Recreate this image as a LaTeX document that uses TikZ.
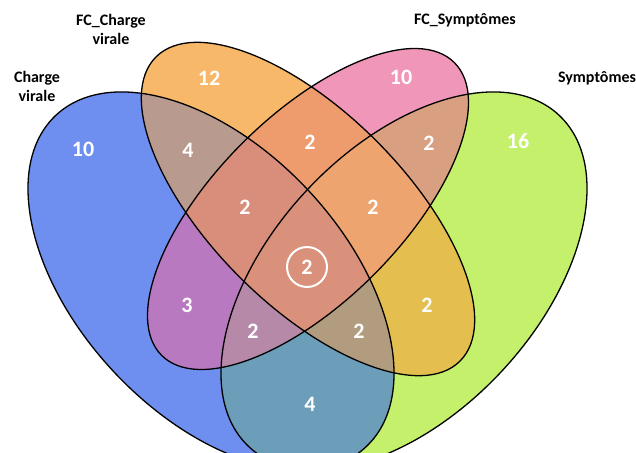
\documentclass[tikz,border=0pt]{standalone}
\usepackage{fontspec}
\setmainfont{Carlito}
\definecolor{cB}{RGB}{110,143,240}
\definecolor{cO}{RGB}{247,184,106}
\definecolor{cP}{RGB}{240,150,185}
\definecolor{cG}{RGB}{196,240,108}
\definecolor{cBO}{RGB}{184,154,142}
\definecolor{cOP}{RGB}{238,156,110}
\definecolor{cPG}{RGB}{216,160,128}
\definecolor{cBP}{RGB}{184,121,192}
\definecolor{cOG}{RGB}{228,191,80}
\definecolor{cBG}{RGB}{108,157,185}
\definecolor{cBOP}{RGB}{216,142,122}
\definecolor{cOPG}{RGB}{237,164,110}
\definecolor{cBPG}{RGB}{183,137,168}
\definecolor{cBOG}{RGB}{178,156,128}
\definecolor{cALL}{RGB}{217,145,123}
\def\eB{(211,-281) circle [x radius=227, y radius=133, rotate=-46.9]}
\def\eG{(404,-281) circle [x radius=227, y radius=133, rotate=46.9]}
\def\eO{(308,-209) circle [x radius=215, y radius=96.5, rotate=-45]}
\def\eP{(308,-209) circle [x radius=207, y radius=93, rotate=45]}
\begin{document}
\begin{tikzpicture}[x=1pt,y=1pt,
  outline/.style={draw=black, line width=1.3pt},
  num/.style={text=white, font=\bfseries\fontsize{22}{26}\selectfont, inner sep=0pt},
  lab/.style={text=black, font=\bfseries\fontsize{16}{19}\selectfont, align=center, inner sep=0pt}]
\useasboundingbox (0,0) rectangle (636,-452);
\fill[white] (0,0) rectangle (636,-452);
\begin{scope}
\clip (0,0) rectangle (636,-452);
% single sets
\fill[cB] \eB; \fill[cG] \eG; \fill[cO] \eO; \fill[cP] \eP;
% pairs
\begin{scope}\clip \eB; \fill[cBO] \eO; \end{scope}
\begin{scope}\clip \eB; \fill[cBP] \eP; \end{scope}
\begin{scope}\clip \eB; \fill[cBG] \eG; \end{scope}
\begin{scope}\clip \eO; \fill[cOP] \eP; \end{scope}
\begin{scope}\clip \eO; \fill[cOG] \eG; \end{scope}
\begin{scope}\clip \eP; \fill[cPG] \eG; \end{scope}
% triples
\begin{scope}\clip \eB; \clip \eO; \fill[cBOP] \eP; \end{scope}
\begin{scope}\clip \eB; \clip \eO; \fill[cBOG] \eG; \end{scope}
\begin{scope}\clip \eB; \clip \eP; \fill[cBPG] \eG; \end{scope}
\begin{scope}\clip \eO; \clip \eP; \fill[cOPG] \eG; \end{scope}
% all four
\begin{scope}\clip \eB; \clip \eO; \clip \eP; \fill[cALL] \eG; \end{scope}
% outlines
\draw[outline] \eB; \draw[outline] \eG; \draw[outline] \eO; \draw[outline] \eP;
\end{scope}
% labels
\node[lab] (lB) at (37,-86) {Charge\\virale};
\node[lab] (lO) at (111,-29) {FC\_Charge\\virale};
\node[lab] (lP) at (465,-20) {FC\_Symptômes};
\node[lab] (lG) at (597,-78) {Symptômes};
% counts
\node[num] (nB) at (83,-149) {10};
\node[num] (nO) at (209,-78) {12};
\node[num] (nP) at (401,-77) {10};
\node[num] (nG) at (518,-141) {16};
\node[num] (nBO) at (188,-150) {4};
\node[num] (nOP) at (310,-142) {2};
\node[num] (nPG) at (429,-143) {2};
\node[num] (nBOP) at (245,-207) {2};
\node[num] (nOPG) at (373,-207) {2};
\node[num] (nBP) at (187,-305) {3};
\node[num] (nOG) at (427,-305) {2};
\node[num] (nBPG) at (253,-331) {2};
\node[num] (nBOG) at (359,-331) {2};
\node[num] (nBG) at (310,-404) {4};
\node[num, circle, draw=white, line width=2pt, minimum size=40pt] (nALL) at (307,-267) {2};
\end{tikzpicture}
\end{document}
